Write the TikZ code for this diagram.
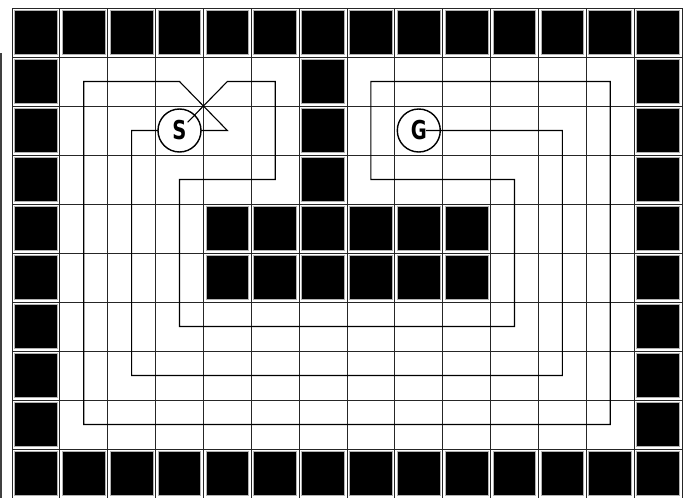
\documentclass[tikz,border=0pt]{standalone}
\usepackage{fontspec}
\newfontfamily\lblfont{DejaVu Sans}
\usetikzlibrary{calc}
\tikzset{
  gridline/.style={draw=black!85, line width=1pt},
  wall/.style={fill=black, draw=black!30, line width=0.9pt},
  route/.style={draw=black, line width=1.1pt, line join=miter},
  marker/.style={circle, draw=black, fill=white, line width=1.4pt, minimum size=43pt, inner sep=0pt, font=\lblfont\bfseries\fontsize{26}{26}\selectfont}
}
\newcommand{\wallcell}[2]{%
  \path[wall] ([shift={(2.6pt,-2.6pt)}]#1,#2) rectangle ([shift={(-2.6pt,2.6pt)}]#1+1,#2+1);}
\begin{document}
\begin{tikzpicture}[x=1pt,y=-1pt]
\useasboundingbox (0,0) rectangle (689,498);
\fill[white] (0,0) rectangle (689,498);
\draw[black!75, line width=1.6pt] (1,53) -- (1,498);
\begin{scope}[shift={(12,8)}, x=47.857pt, y=-49pt]
  % grid lines
  \foreach \i in {0,...,14} \draw[gridline] (\i,0) -- (\i,10);
  \foreach \j in {0,...,10} \draw[gridline] (0,\j) -- (14,\j);
  % walls
  \foreach \c in {0,...,13} {\wallcell{\c}{0} \wallcell{\c}{9}}
  \foreach \r in {1,...,8} {\wallcell{0}{\r} \wallcell{13}{\r}}
  \foreach \r in {1,2,3} {\wallcell{6}{\r}}
  \foreach \c in {4,...,9} {\wallcell{\c}{4} \wallcell{\c}{5}}
  % route vertices (cell centres)
  \coordinate (sc) at (3.5,2.5);
  \coordinate (gc) at (8.5,2.5);
  \coordinate (p1) at (4.5,1.5);
  \coordinate (p2) at (5.5,1.5);
  \coordinate (p3) at (5.5,3.5);
  \coordinate (p4) at (3.5,3.5);
  \coordinate (p5) at (3.5,6.5);
  \coordinate (p6) at (10.5,6.5);
  \coordinate (p7) at (10.5,3.5);
  \coordinate (p8) at (7.5,3.5);
  \coordinate (p9) at (7.5,1.5);
  \coordinate (p10) at (12.5,1.5);
  \coordinate (p11) at (12.5,8.5);
  \coordinate (p12) at (1.5,8.5);
  \coordinate (p13) at (1.5,1.5);
  \coordinate (p14) at (3.5,1.5);
  \coordinate (p15) at (4.5,2.5);
  \coordinate (p16) at (2.5,2.5);
  \coordinate (p17) at (2.5,7.5);
  \coordinate (p18) at (11.5,7.5);
  \coordinate (p19) at (11.5,2.5);
  \draw[route] (sc) -- (p1) -- (p2) -- (p3) -- (p4) -- (p5) -- (p6) -- (p7) -- (p8)
    -- (p9) -- (p10) -- (p11) -- (p12) -- (p13) -- (p14) -- (p15) -- (p16) -- (p17)
    -- (p18) -- (p19) -- (gc);
  % start and goal markers
  \node[marker] (S) at (sc) {\scalebox{0.75}[1]{S}};
  \node[marker] (G) at (gc) {\scalebox{0.75}[1]{G}};
  \draw[route] ($(S.center)!0.17!(p1)$) -- (S.north east);
  \draw[route] ($(G.center)!0.05!(p19)$) -- (G.east);
\end{scope}
\end{tikzpicture}
\end{document}
